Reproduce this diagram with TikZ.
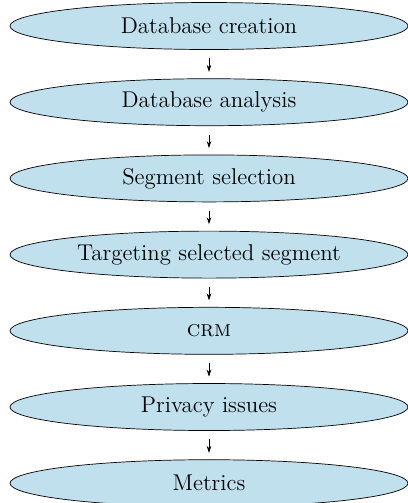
\documentclass[tikz,border=0pt]{standalone}
\usetikzlibrary{positioning,shapes.geometric,arrows.meta}
\definecolor{stageblue}{RGB}{192,224,238}
\tikzset{
    stage/.style={ellipse,draw=black,thin,fill=stageblue,minimum width=7.96cm,
        minimum height=0.94cm,inner sep=0pt,font=\fontsize{13}{15}\selectfont},
    flow/.style={-{Stealth[length=4pt,width=2.6pt]},thin,shorten <=0.17cm,shorten >=0.13cm}
}
\begin{document}
\begin{tikzpicture}[node distance=0.57cm]
        \useasboundingbox (0,0) rectangle (8.16,-10.06);
        \node[stage] (creation) at (4.18,-0.52) {Database creation};
        \node[stage,below=of creation] (analysis) {Database analysis};
        \node[stage,below=of analysis] (selection) {Segment selection};
        \node[stage,below=of selection] (targeting) {Targeting selected segment};
        \node[stage,below=of targeting] (crm) {\textsc{crm}};
        \node[stage,below=of crm] (privacy) {Privacy issues};
        \node[stage,below=of privacy] (metrics) {Metrics};
        \foreach \a/\b in {creation/analysis,analysis/selection,selection/targeting,
            targeting/crm,crm/privacy,privacy/metrics}
            \draw[flow] (\a) -- (\b);
    \end{tikzpicture}
\end{document}
